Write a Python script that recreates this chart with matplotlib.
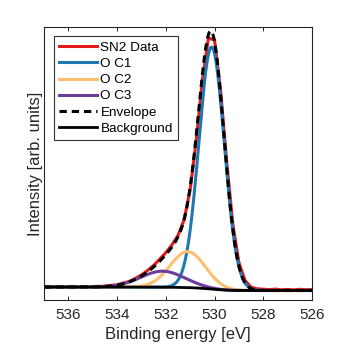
import numpy as np
import matplotlib.pyplot as plt

plt.rcParams['font.family'] = ['Liberation Sans', 'DejaVu Sans']

# measured O 1s spectrum (arb. units), 537 -> 526 eV in 0.25 eV steps
energy = np.arange(537, 525.9, -0.25)
sn2_data = [13.2, 12.6, 13.4, 12.8, 13.1, 12.7, 13.3, 13.0, 13.4, 13.6,
            13.9, 14.6, 15.2, 16.9, 18.6, 21.6, 25.1, 29.5, 34.6, 40.8,
            47.3, 55.0, 64.6, 80.2, 110.5, 160.0, 220.0, 262.0, 260.0, 209.0,
            138.0, 76.0, 37.5, 19.6, 12.8, 11.2, 10.8, 10.4, 10.9, 10.2,
            10.6, 10.1, 10.7, 10.3, 10.5]

# fitted components (gaussian centre, sigma, height)
peak_names = ['O C1', 'O C2', 'O C3']
peak_centres = [530.12, 531.1, 532.13]
peak_sigmas = [0.52, 0.72, 0.9]
peak_heights = [242.0, 36.0, 16.0]
peak_colours = ['#1F78B4', '#FDBF6F', '#6A3D9A']

bg_low = 9.5    # background level on low BE side
bg_high = 13.0  # background level on high BE side

e_fit = np.linspace(537, 526, 441)
comps = [h*np.exp(-0.5*((e_fit - c)/s)**2) for c, s, h in zip(peak_centres, peak_sigmas, peak_heights)]
total = np.sum(comps, axis=0)
# shirley type step
area = np.cumsum(total[::-1])[::-1]
background = bg_low + (bg_high - bg_low)*area/area[0]

fig = plt.figure(figsize=(3.46, 3.46), dpi=100)
ax = fig.add_axes([44/346, 46/346, 268/346, 273/346])

ax.plot(energy, sn2_data, color='#E31A1C', lw=2.2, label='SN2 Data')
for comp, name, col in zip(comps, peak_names, peak_colours):
    ax.plot(e_fit, comp + background, color=col, lw=2.2, label=name)
ax.plot(e_fit, total + background, color='k', lw=2.2, dashes=(2.4, 1.6), label='Envelope')
ax.plot(e_fit, background, color='k', lw=2.0, label='Background')

ax.set_xlim(537, 526)
ax.set_ylim(0, 273)
ax.set_xticks([536, 534, 532, 530, 528, 526])
ax.set_yticks([])
ax.tick_params(axis='x', direction='in', top=True, length=3, width=0.7,
               labelsize=11, pad=6, colors='#262626')
for sp in ax.spines.values():
    sp.set_linewidth(0.8)
    sp.set_color('#262626')

ax.set_xlabel('Binding energy [eV]', fontsize=12, color='#262626', labelpad=3)
ax.set_ylabel('Intensity [arb. units]', fontsize=12, color='#262626', labelpad=1)

leg = ax.legend(loc='upper left', bbox_to_anchor=(10/268, 1 - 9/273), borderaxespad=0,
                fontsize=9.7, frameon=True, fancybox=False, handlelength=2.8,
                handletextpad=0.25, labelspacing=0.28, borderpad=0.4)
leg.get_frame().set_edgecolor('k')
leg.get_frame().set_linewidth(0.8)

fig.savefig('out.png', dpi=100)
